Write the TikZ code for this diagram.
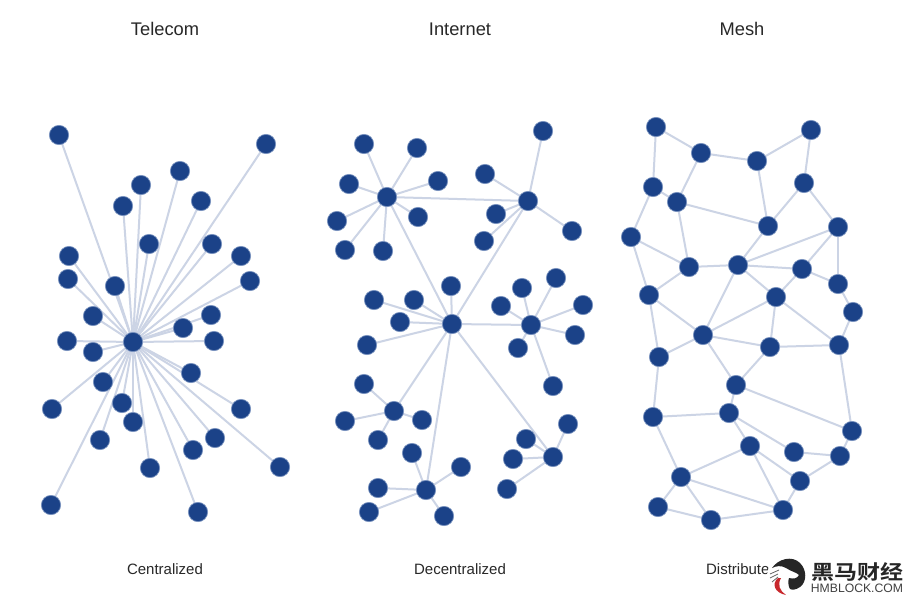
\documentclass[tikz,border=0pt]{standalone}
\usepackage{fontspec}
\setmainfont{Liberation Sans}
\newfontfamily\cjkfont[BoldFont=Noto Sans CJK SC Bold]{Noto Sans CJK SC}
\definecolor{nodeblue}{RGB}{27,66,136}
\definecolor{nodehalo}{RGB}{120,145,190}
\definecolor{linkgrey}{RGB}{204,212,229}
\definecolor{capgrey}{RGB}{40,40,40}
\definecolor{logored}{RGB}{200,40,45}
\tikzset{
  dot/.style={circle,fill=nodeblue,draw=nodehalo,line width=0.7pt,minimum size=19.3pt,inner sep=0pt,outer sep=0pt},
  link/.style={draw=linkgrey,line width=2pt},
  heading/.style={font=\fontsize{18.3}{20}\selectfont,text=capgrey,inner sep=0pt},
  caption/.style={font=\fontsize{15}{17}\selectfont,text=capgrey,inner sep=0pt}
}
\begin{document}
\begin{tikzpicture}[x=1pt,y=-1pt]
\useasboundingbox (0,0) rectangle (908,600);
\fill[white] (0,0) rectangle (908,600);

% ---------- headings and captions
\node[heading] (t1) at (165,29) {Telecom};
\node[heading] (t2) at (460,29) {Internet};
\node[heading] (t3) at (742,29) {Mesh};
\node[caption] (c1) at (165,569) {Centralized};
\node[caption] (c2) at (460,569) {Decentralized};
\node[caption] (c3) at (742,569) {Distributed};

% ---------- Telecom
\foreach \n/\x/\y in {
 h/133/342,
 a/59/135,b/266/144,c/180/171,d/141/185,e/123/206,f/201/201,g/149/244,i/212/244,
 j/241/256,k/250/281,l/69/256,m/68/279,n/115/286,o/93/316,p/211/315,q/183/328,
 r/67/341,s/214/341,u/93/352,v/191/373,w/103/382,x/52/409,y/241/409,z/122/403,
 aa/133/422,ab/100/440,ac/215/438,ad/193/450,ae/150/468,af/280/467,ag/51/505,ah/198/512}
  {\coordinate (T\n) at (\x,\y);}
\foreach \n in {a,b,c,d,e,f,g,i,j,k,l,m,n,o,p,q,r,s,u,v,w,x,y,z,aa,ab,ac,ad,ae,af,ag,ah}
  {\draw[link] (Th) -- (T\n);}
\foreach \n in {h,a,b,c,d,e,f,g,i,j,k,l,m,n,o,p,q,r,s,u,v,w,x,y,z,aa,ab,ac,ad,ae,af,ag,ah}
  {\node[dot] (TN\n) at (T\n) {};}

% ---------- Internet
\foreach \n/\x/\y in {
 A/387/197,B/528/201,C/452/324,D/531/325,E/394/411,F/426/490,G/553/457,
 a1/364/144,a2/417/148,a3/349/184,a4/438/181,a5/337/221,a6/418/217,a7/345/250,a8/383/251,
 b1/543/131,b2/485/174,b3/496/214,b4/484/241,b5/572/231,
 c1/451/286,c2/374/300,c3/414/300,c4/400/322,c5/367/345,
 d1/522/288,d2/556/278,d3/501/306,d4/583/305,d5/575/335,d6/518/348,d7/553/386,
 e1/364/384,e2/345/421,e3/422/420,e4/378/440,
 f1/412/453,f2/461/467,f3/378/488,f4/369/512,f5/444/516,
 g1/568/424,g2/526/439,g3/513/459,g4/507/489}
  {\coordinate (I\n) at (\x,\y);}
\foreach \p/\q in {A/B,A/C,B/C,C/D,C/E,C/F,C/G,
 A/a1,A/a2,A/a3,A/a4,A/a5,A/a6,A/a7,A/a8,
 B/b1,B/b2,B/b3,B/b4,B/b5,
 C/c1,C/c2,C/c3,C/c4,C/c5,
 D/d1,D/d2,D/d3,D/d4,D/d5,D/d6,D/d7,
 E/e1,E/e2,E/e3,E/e4,
 F/f1,F/f2,F/f3,F/f4,F/f5,
 G/g1,G/g2,G/g3,G/g4}
  {\draw[link] (I\p) -- (I\q);}
\foreach \n in {A,B,C,D,E,F,G,a1,a2,a3,a4,a5,a6,a7,a8,b1,b2,b3,b4,b5,c1,c2,c3,c4,c5,
 d1,d2,d3,d4,d5,d6,d7,e1,e2,e3,e4,f1,f2,f3,f4,f5,g1,g2,g3,g4}
  {\node[dot] (IN\n) at (I\n) {};}

% ---------- Mesh
\foreach \n/\x/\y in {
 1/656/127,2/701/153,3/757/161,4/811/130,5/804/183,6/653/187,7/677/202,8/768/226,
 9/838/227,10/631/237,11/689/267,12/738/265,13/802/269,14/838/284,15/649/295,16/776/297,
 17/853/312,18/703/335,19/770/347,20/839/345,21/659/357,22/736/385,23/729/413,24/653/417,
 25/852/431,26/750/446,27/794/452,28/840/456,29/681/477,30/800/481,31/658/507,32/711/520,33/783/510}
  {\coordinate (M\n) at (\x,\y);}
\foreach \p/\q in {1/2,1/6,2/3,2/7,3/4,3/8,4/5,5/8,5/9,6/7,6/10,7/8,7/11,8/12,9/12,9/13,9/14,
 10/11,10/15,11/12,11/15,12/13,12/16,12/18,13/14,13/16,14/17,15/18,15/21,16/18,16/19,16/20,
 17/20,18/19,18/21,18/22,19/20,19/22,20/25,21/24,22/23,22/25,23/24,23/26,23/27,24/29,26/29,
 26/30,26/33,27/28,25/28,28/30,30/33,29/31,29/32,29/33,31/32,32/33}
  {\draw[link] (M\p) -- (M\q);}
\foreach \n in {1,...,33}
  {\node[dot] (MN\n) at (M\n) {};}

% ---------- watermark
\fill[white] (787,576) circle (20);
\fill[black!85] (772,568) .. controls (778,559) and (792,555) .. (800,563)
  .. controls (807,570) and (807,582) .. (800,587)
  .. controls (796,590) and (792,590) .. (790,589)
  .. controls (788,586) and (788,581) .. (789,578)
  .. controls (793,579) and (797,579) .. (799,575)
  .. controls (796,572) and (792,572) .. (786,568)
  .. controls (781,565) and (776,566) .. (772,568) -- cycle;
\fill[logored] (778,578) .. controls (771,584) and (775,593) .. (786,595)
  .. controls (780,591) and (777,585) .. (781,578) -- cycle;
\draw[black!60,line width=0.8pt] (770,574) -- (779,570) (770,578) -- (778,574) (772,582) -- (778,577);
\node[font=\cjkfont\bfseries\fontsize{23}{24}\selectfont,text=black!85,inner sep=0pt,yscale=0.86,transform shape] (wm1) at (857,571.5) {黑马财经};
\node[font=\fontsize{12.2}{13}\selectfont,text=black!75,inner sep=0pt] (wm2) at (857,588.5) {HMBLOCK.COM};
\end{tikzpicture}
\end{document}
